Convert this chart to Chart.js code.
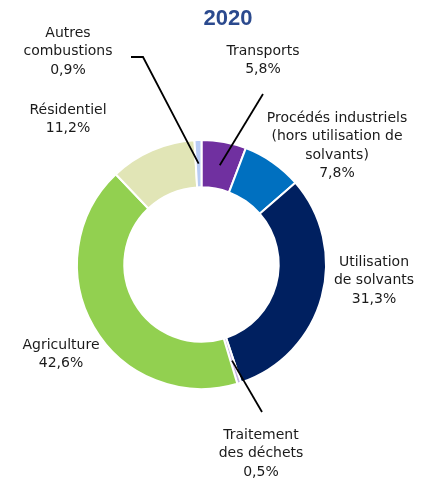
<!DOCTYPE html>
<html lang="fr">
<head>
<meta charset="utf-8">
<script src="https://cdn.jsdelivr.net/npm/chart.js@4/dist/chart.umd.min.js"></script>
<style>
    html, body { margin: 0; padding: 0; background: #fff; }
    #wrap { width: 425px; height: 480px; position: relative; }
</style>
</head>
<body>
<div id="wrap"><canvas id="emissions-chart"></canvas></div>
<script>
const year = '2020';
const sectors = [
    ['Transports'],
    ['Procédés industriels', '(hors utilisation de', 'solvants)'],
    ['Utilisation', 'de solvants'],
    ['Traitement', 'des déchets'],
    ['Agriculture'],
    ['Résidentiel'],
    ['Autres', 'combustions']
];
const shares = [5.8, 7.8, 31.3, 0.5, 42.6, 11.2, 0.9];
const sliceColors = ['#7030a0', '#0070c0', '#002060', '#c5b5e3', '#92d050', '#e1e5b6', '#b8ccf4'];

// where each caption sits (center x, baseline of first line) and optional leader line
const captionLayout = [
    { x: 263, y: 51, leader: [[263, 94]] },
    { x: 337, y: 118 },
    { x: 374, y: 262 },
    { x: 261, y: 435, leader: [[262, 412]] },
    { x: 61, y: 345 },
    { x: 68, y: 110 },
    { x: 68, y: 33, leader: [[143, 57], [131, 57]] }
];

const FONT = '"DejaVu Sans", sans-serif';

function formatShare(v) {
    return v.toFixed(1).replace('.', ',') + '%';
}

const captionsPlugin = {
    id: 'captions',
    afterDraw(chart) {
        const ctx = chart.ctx;
        const arcs = chart.getDatasetMeta(0).data;
        ctx.save();

        // title
        ctx.fillStyle = '#2b4a8e';
        ctx.font = 'bold 22px "Liberation Sans", sans-serif';
        ctx.textAlign = 'center';
        ctx.textBaseline = 'middle';
        ctx.fillText(year, 228, 19);

        // leader lines from the middle of the slice
        ctx.strokeStyle = '#000';
        ctx.lineWidth = 1.8;
        captionLayout.forEach((cap, i) => {
            if (!cap.leader) return;
            const p = arcs[i].getCenterPoint();
            ctx.beginPath();
            ctx.moveTo(p.x, p.y);
            cap.leader.forEach(pt => ctx.lineTo(pt[0], pt[1]));
            ctx.stroke();
        });

        // captions
        ctx.fillStyle = '#1a1a1a';
        ctx.font = '14px ' + FONT;
        captionLayout.forEach((cap, i) => {
            const lines = sectors[i].concat([formatShare(shares[i])]);
            lines.forEach((line, j) => {
                ctx.fillText(line, cap.x, cap.y + j * 18.5);
            });
        });
        ctx.restore();
    }
};

new Chart(document.getElementById('emissions-chart'), {
    type: 'doughnut',
    data: {
        labels: sectors.map(s => s.join(' ')),
        datasets: [{
            data: shares,
            backgroundColor: sliceColors,
            borderColor: '#ffffff',
            borderWidth: 2
        }]
    },
    options: {
        responsive: true,
        maintainAspectRatio: false,
        animation: false,
        cutout: '62%',
        rotation: 0,
        layout: {
            padding: { left: 76, right: 98, top: 139, bottom: 90 }
        },
        plugins: {
            legend: { display: false },
            tooltip: { enabled: false },
            title: { display: false }
        }
    },
    plugins: [captionsPlugin]
});
</script>
</body>
</html>
